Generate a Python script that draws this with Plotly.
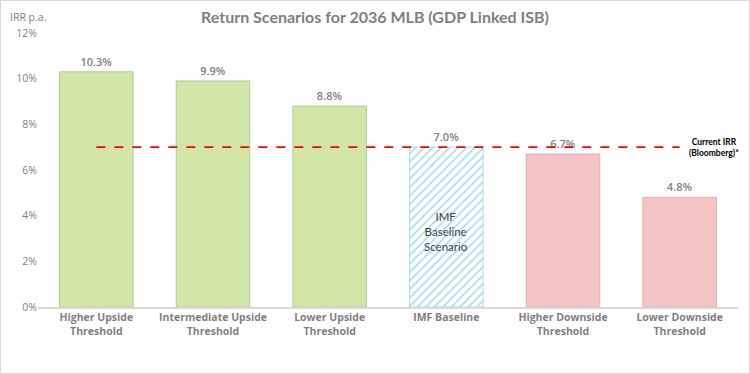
import plotly.graph_objects as go

categories = ["Higher Upside<br>Threshold", "Intermediate Upside<br>Threshold", "Lower Upside<br>Threshold",
              "IMF Baseline", "Higher Downside<br>Threshold", "Lower Downside<br>Threshold"]
irr_values = [10.3, 9.9, 8.8, 7.0, 6.7, 4.8]
value_labels = ["10.3%", "9.9%", "8.8%", "7.0%", "6.7%", "4.8%"]
current_irr = 7.0
tick_vals = [0, 2, 4, 6, 8, 10, 12]
tick_text = ["0%", "2%", "4%", "6%", "8%", "10%", "12%"]

fill_colors = ["#D3E5A7", "#D3E5A7", "#D3E5A7", "#A6DCEF", "#F4C4C4", "#F4C4C4"]
line_colors = ["#A9D18E", "#A9D18E", "#A9D18E", "#A6DCEF", "#F0A8A8", "#F0A8A8"]
patterns = ["", "", "", "/", "", ""]

FONT = "Lato"
TICKFONT = "Open Sans"
GREY = "#7F7F7F"

fig = go.Figure()
fig.add_trace(go.Scatter(
    x=[categories[0], categories[-1]], y=[current_irr, current_irr], mode="lines",
    line=dict(color="#FF0000", width=1.6, dash="dash"), showlegend=False, hoverinfo="skip",
))
fig.add_trace(go.Bar(
    x=categories, y=irr_values, width=0.63,
    marker=dict(color=fill_colors, line=dict(color=line_colors, width=1),
                pattern=dict(shape=patterns, size=6, solidity=0.3, fillmode="replace")),
    text=value_labels, textposition="outside", cliponaxis=False,
    textfont=dict(family=TICKFONT, size=11, color=GREY, weight=600),
    hoverinfo="skip", showlegend=False,
))

W, H = 750, 374
L, R, T, B = 38, 12, 33, 67
pw, ph = W - L - R, H - T - B

fig.add_annotation(x=1.0, xref="paper", xanchor="center", xshift=-24, y=current_irr, yref="y",
                   yanchor="middle",
                   text="<b>Current IRR</b><br><b>(Bloomberg)*</b>", showarrow=False,
                   font=dict(family=FONT, size=8.5, color="#000000"), align="center")
fig.add_annotation(x=categories[3], y=3.3, text="IMF<br>Baseline<br>Scenario", showarrow=False,
                   font=dict(family=FONT, size=11.5, color="#404040"), align="center")
fig.add_annotation(x=(8 - L) / pw, xref="paper", xanchor="left", y=(H - 17 - B) / ph, yref="paper",
                   yanchor="middle", text="IRR p.a.", showarrow=False,
                   font=dict(family=TICKFONT, size=10.5, color=GREY))

fig.add_shape(type="rect", xref="paper", yref="paper",
              x0=(0.5 - L) / pw, x1=(W - 0.5 - L) / pw,
              y0=-(B - 0.5) / ph, y1=(H - 0.5 - B) / ph,
              line=dict(color="#D9D9D9", width=1))

fig.update_layout(
    width=W, height=H, margin=dict(l=L, r=R, t=T, b=B),
    paper_bgcolor="white", plot_bgcolor="white",
    title=dict(text="<b>Return Scenarios for 2036 MLB (GDP Linked ISB)</b>", x=0.5, xanchor="center",
               y=1 - 17 / H, yanchor="middle", font=dict(family=FONT, size=16, color=GREY)),
    font=dict(family=FONT),
    xaxis=dict(range=[-0.5, 5.5], categoryorder="array", categoryarray=categories,
               showgrid=False, showline=True, linecolor="#D9D9D9", linewidth=1.5,
               ticks="", tickfont=dict(family=TICKFONT, size=10.5, color=GREY, weight="bold"),
               fixedrange=True),
    yaxis=dict(range=[0, 12], tickvals=tick_vals, ticktext=tick_text, showgrid=False, zeroline=False,
               showline=False, ticks="", fixedrange=True,
               tickfont=dict(family=TICKFONT, size=10.5, color=GREY)),
)

fig.write_html("out.html", config={"displayModeBar": False, "staticPlot": True},
               post_script="document.body.style.margin='0';document.body.style.overflow='hidden';")
